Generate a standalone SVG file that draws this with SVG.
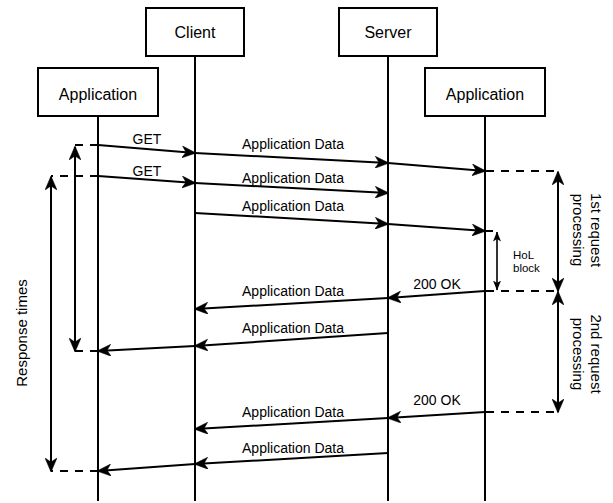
<svg xmlns="http://www.w3.org/2000/svg" width="613" height="503" viewBox="0 0 613 503">
<style>
text{font-family:"Liberation Sans",Arial,sans-serif;fill:#000}
.box{fill:#fff;stroke:#000;stroke-width:2}
.life{stroke:#000;stroke-width:2;fill:none}
.msg{stroke:#000;stroke-width:2;fill:none;marker-end:url(#ah)}
.dbl{stroke:#000;stroke-width:2;fill:none;marker-start:url(#ah);marker-end:url(#ah)}
.dash{stroke:#000;stroke-width:2;fill:none;stroke-dasharray:8 7}
.plain{stroke:#000;stroke-width:2;fill:none}
.lbl{font-size:14px;text-anchor:middle}
.title{font-size:16px;text-anchor:middle}
.side{font-size:15px;text-anchor:middle}
</style>
<defs>
<marker id="ah" viewBox="0 0 14 12" refX="13" refY="6" markerWidth="14" markerHeight="12" markerUnits="userSpaceOnUse" orient="auto-start-reverse">
<path d="M0,0 L14,6 L0,12 L4,6 Z" fill="#000" stroke="#000" stroke-width="0.5" stroke-linejoin="miter"/>
</marker>
<marker id="ahs" viewBox="0 0 10 8" refX="9.5" refY="4" markerWidth="10" markerHeight="8" markerUnits="userSpaceOnUse" orient="auto-start-reverse">
<path d="M0,0 L10,4 L0,8 L2.5,4 Z" fill="#000"/>
</marker>
</defs>

<g id="client">
<rect class="box" x="146" y="8" width="98" height="48"/>
<text class="title" x="195" y="38">Client</text>
<line class="life" x1="195" y1="56" x2="195" y2="501"/>
</g>
<g id="server">
<rect class="box" x="339" y="8" width="98" height="48"/>
<text class="title" x="388" y="38">Server</text>
<line class="life" x1="388" y1="56" x2="388" y2="501"/>
</g>
<g id="app-left">
<rect class="box" x="38" y="68" width="120" height="48"/>
<text class="title" x="98" y="100">Application</text>
<line class="life" x1="98" y1="116" x2="98" y2="501"/>
</g>
<g id="app-right">
<rect class="box" x="425" y="68" width="120" height="48"/>
<text class="title" x="485" y="100">Application</text>
<line class="life" x1="485" y1="116" x2="485" y2="501"/>
</g>

<g id="connectors">
<!-- requests -->
<line class="msg" x1="98" y1="145" x2="195" y2="153"/>
<line class="msg" x1="195" y1="153" x2="388" y2="163"/>
<line class="msg" x1="388" y1="163" x2="485" y2="171"/>
<line class="msg" x1="98" y1="176" x2="195" y2="183"/>
<line class="msg" x1="195" y1="183" x2="388" y2="193"/>
<line class="msg" x1="195" y1="213" x2="388" y2="224"/>
<line class="msg" x1="388" y1="224" x2="485" y2="231"/>
<line class="plain" x1="485" y1="231" x2="493" y2="231"/>
<!-- responses -->
<line class="msg" x1="485" y1="291" x2="388" y2="298"/>
<line class="msg" x1="388" y1="298" x2="195" y2="309"/>
<line class="msg" x1="388" y1="333" x2="195" y2="346"/>
<line class="msg" x1="195" y1="346" x2="98" y2="351"/>
<line class="msg" x1="485" y1="412" x2="388" y2="418"/>
<line class="msg" x1="388" y1="418" x2="195" y2="429"/>
<line class="msg" x1="388" y1="453" x2="195" y2="464"/>
<line class="msg" x1="195" y1="464" x2="98" y2="471"/>
<!-- dashed guides -->
<line class="dash" x1="98" y1="145" x2="75" y2="145"/>
<line class="dash" x1="98" y1="176" x2="51" y2="176"/>
<line class="dash" x1="486" y1="171" x2="558" y2="171"/>
<line class="dash" x1="486" y1="291" x2="558" y2="291"/>
<line class="dash" x1="98" y1="351" x2="75" y2="351"/>
<line class="dash" x1="486" y1="412" x2="558" y2="412"/>
<line class="dash" x1="98" y1="471" x2="51" y2="471"/>
<!-- interval arrows -->
<line class="dbl" x1="75" y1="147" x2="75" y2="351"/>
<line class="dbl" x1="51" y1="177" x2="51" y2="471"/>
<line class="dbl" x1="558" y1="172" x2="558" y2="291"/>
<line class="dbl" x1="558" y1="292" x2="558" y2="412"/>
<line x1="497" y1="232" x2="497" y2="290" stroke="#000" stroke-width="1.6" marker-start="url(#ahs)" marker-end="url(#ahs)"/>
</g>

<g id="labels">
<text class="lbl" x="147" y="144">GET</text>
<text class="lbl" x="147" y="176">GET</text>
<text class="lbl" x="293" y="149">Application Data</text>
<text class="lbl" x="293" y="183">Application Data</text>
<text class="lbl" x="293" y="211">Application Data</text>
<text class="lbl" x="437" y="289">200 OK</text>
<text class="lbl" x="293" y="296">Application Data</text>
<text class="lbl" x="293" y="333">Application Data</text>
<text class="lbl" x="437" y="405">200 OK</text>
<text class="lbl" x="293" y="417">Application Data</text>
<text class="lbl" x="293" y="453">Application Data</text>
<text x="513" y="259" font-size="11.5">HoL</text>
<text x="513" y="272" font-size="11.5">block</text>
<text class="side" transform="translate(27,333) rotate(-90)">Response times</text>
<text class="side" transform="translate(586,230) rotate(90)"><tspan x="0" y="-5">1st request</tspan><tspan x="0" y="13">processing</tspan></text>
<text class="side" transform="translate(586,354) rotate(90)"><tspan x="0" y="-5">2nd request</tspan><tspan x="0" y="13">processing</tspan></text>
</g>
</svg>
